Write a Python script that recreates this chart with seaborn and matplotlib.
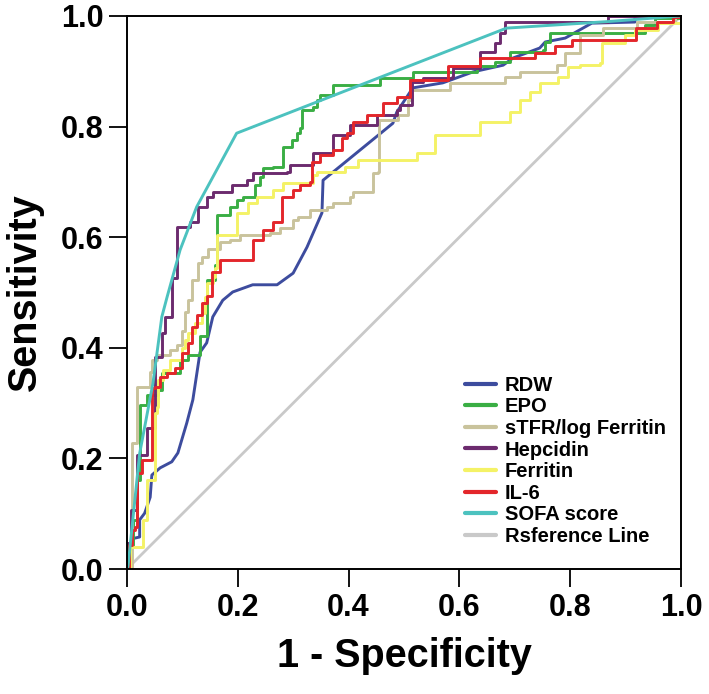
import matplotlib
matplotlib.use("Agg")
import matplotlib.pyplot as plt
import seaborn as sns
import pandas as pd
from matplotlib.lines import Line2D

# ---------------- data ----------------
rdw_fpr = [0, 0.005, 0.010, 0.023, 0.023, 0.032, 0.042, 0.045, 0.060, 0.081, 0.092, 0.108, 0.119,
           0.132, 0.144, 0.155, 0.173, 0.191, 0.227, 0.271, 0.300, 0.325, 0.352, 0.354, 0.480,
           0.487, 0.516, 0.570, 0.625, 0.679, 0.697, 0.745, 0.755, 0.791, 0.839, 0.917, 0.917, 1.0]
rdw_tpr = [0, 0.020, 0.055, 0.058, 0.089, 0.101, 0.130, 0.170, 0.183, 0.194, 0.210, 0.264, 0.306,
           0.392, 0.409, 0.456, 0.486, 0.501, 0.514, 0.514, 0.535, 0.582, 0.644, 0.703, 0.806,
           0.826, 0.870, 0.879, 0.899, 0.911, 0.924, 0.942, 0.953, 0.960, 0.987, 0.989, 1.0, 1.0]

epo_fpr = [0, 0.005, 0.011, 0.018, 0.023, 0.023, 0.036, 0.036, 0.056, 0.063, 0.096, 0.096, 0.110,
           0.132, 0.144, 0.144, 0.159, 0.162, 0.162, 0.186, 0.186, 0.199, 0.199, 0.209, 0.231,
           0.240, 0.245, 0.264, 0.282, 0.298, 0.307, 0.312, 0.316, 0.336, 0.343, 0.348, 0.372,
           0.457, 0.457, 0.516, 0.516, 0.632, 0.632, 0.664, 0.691, 0.751, 0.755, 0.764, 0.899,
           0.935, 0.953, 1.0]
epo_tpr = [0, 0.043, 0.089, 0.161, 0.179, 0.297, 0.297, 0.315, 0.324, 0.354, 0.354, 0.378, 0.387,
           0.421, 0.510, 0.523, 0.550, 0.608, 0.640, 0.640, 0.655, 0.655, 0.667, 0.673, 0.694,
           0.709, 0.725, 0.727, 0.763, 0.776, 0.788, 0.797, 0.830, 0.836, 0.848, 0.857, 0.875,
           0.878, 0.888, 0.888, 0.899, 0.899, 0.910, 0.917, 0.935, 0.938, 0.953, 0.969, 0.969,
           0.984, 0.996, 1.0]

stfr_fpr = [0, 0.009, 0.009, 0.018, 0.018, 0.029, 0.042, 0.045, 0.054, 0.078, 0.090, 0.099, 0.105,
            0.110, 0.117, 0.128, 0.135, 0.146, 0.168, 0.186, 0.204, 0.258, 0.276, 0.300, 0.309,
            0.330, 0.361, 0.372, 0.403, 0.408, 0.444, 0.444, 0.453, 0.455, 0.489, 0.507, 0.514,
            0.583, 0.679, 0.682, 0.709, 0.773, 0.776, 0.791, 0.818, 0.818, 0.859, 0.921, 0.940,
            0.989, 1.0]
stfr_tpr = [0, 0.004, 0.228, 0.228, 0.329, 0.329, 0.356, 0.378, 0.387, 0.396, 0.405, 0.430, 0.465,
            0.486, 0.523, 0.553, 0.564, 0.579, 0.591, 0.595, 0.604, 0.608, 0.617, 0.631, 0.637,
            0.650, 0.655, 0.662, 0.673, 0.682, 0.682, 0.716, 0.718, 0.812, 0.821, 0.848, 0.866,
            0.879, 0.879, 0.890, 0.899, 0.899, 0.911, 0.933, 0.953, 0.966, 0.978, 0.989, 0.989,
            1.0, 1.0]

hep_fpr = [0, 0, 0.005, 0.007, 0.018, 0.018, 0.036, 0.036, 0.045, 0.051, 0.063, 0.063, 0.069,
           0.081, 0.081, 0.090, 0.090, 0.114, 0.128, 0.128, 0.144, 0.155, 0.189, 0.189, 0.217,
           0.227, 0.289, 0.294, 0.336, 0.336, 0.372, 0.372, 0.399, 0.403, 0.451, 0.480, 0.487,
           0.493, 0.514, 0.534, 0.587, 0.588, 0.637, 0.637, 0.664, 0.673, 0.682, 0.868, 0.868, 1.0]
hep_tpr = [0, 0.047, 0.047, 0.107, 0.107, 0.206, 0.206, 0.255, 0.255, 0.383, 0.383, 0.427, 0.456,
           0.481, 0.526, 0.559, 0.618, 0.627, 0.627, 0.655, 0.673, 0.682, 0.682, 0.694, 0.703,
           0.716, 0.718, 0.731, 0.740, 0.752, 0.752, 0.785, 0.785, 0.803, 0.821, 0.821, 0.830,
           0.839, 0.881, 0.888, 0.890, 0.906, 0.920, 0.935, 0.951, 0.969, 0.989, 0.989, 1.0, 1.0]

fer_fpr = [0, 0.005, 0.011, 0.029, 0.036, 0.036, 0.042, 0.051, 0.054, 0.056, 0.065, 0.078, 0.099,
           0.105, 0.110, 0.123, 0.135, 0.141, 0.144, 0.155, 0.159, 0.162, 0.162, 0.191, 0.198,
           0.218, 0.235, 0.264, 0.282, 0.312, 0.336, 0.343, 0.366, 0.393, 0.417, 0.516, 0.523,
           0.547, 0.556, 0.556, 0.634, 0.637, 0.686, 0.691, 0.709, 0.727, 0.745, 0.778, 0.796,
           0.817, 0.854, 0.857, 0.899, 0.917, 0.939, 0.958, 1.0]
fer_tpr = [0, 0.040, 0.040, 0.089, 0.107, 0.161, 0.161, 0.282, 0.293, 0.342, 0.360, 0.378, 0.400,
           0.414, 0.427, 0.445, 0.463, 0.492, 0.517, 0.528, 0.544, 0.580, 0.604, 0.604, 0.644,
           0.662, 0.673, 0.685, 0.698, 0.698, 0.712, 0.718, 0.718, 0.727, 0.740, 0.740, 0.752,
           0.752, 0.763, 0.785, 0.785, 0.808, 0.808, 0.826, 0.848, 0.863, 0.879, 0.890, 0.908,
           0.911, 0.915, 0.951, 0.966, 0.975, 0.975, 0.987, 1.0]

il6_fpr = [0, 0.004, 0.009, 0.014, 0.018, 0.027, 0.045, 0.045, 0.051, 0.060, 0.072, 0.087, 0.099,
           0.099, 0.110, 0.110, 0.117, 0.117, 0.126, 0.135, 0.144, 0.153, 0.153, 0.168, 0.226,
           0.227, 0.245, 0.245, 0.264, 0.280, 0.280, 0.300, 0.312, 0.330, 0.334, 0.348, 0.372,
           0.388, 0.397, 0.408, 0.433, 0.462, 0.462, 0.484, 0.487, 0.511, 0.511, 0.579, 0.579,
           0.637, 0.637, 0.736, 0.736, 0.773, 0.773, 0.803, 0.803, 0.919, 0.919, 0.957, 0.957,
           0.984, 0.986, 1.0]
il6_tpr = [0, 0.043, 0.071, 0.076, 0.174, 0.197, 0.197, 0.327, 0.329, 0.347, 0.354, 0.363, 0.373,
           0.391, 0.391, 0.409, 0.414, 0.438, 0.459, 0.481, 0.494, 0.505, 0.537, 0.559, 0.559,
           0.595, 0.595, 0.613, 0.627, 0.627, 0.673, 0.685, 0.694, 0.700, 0.736, 0.749, 0.758,
           0.779, 0.788, 0.808, 0.821, 0.821, 0.843, 0.843, 0.854, 0.854, 0.884, 0.888, 0.910,
           0.910, 0.924, 0.924, 0.933, 0.933, 0.946, 0.946, 0.957, 0.957, 0.978, 0.984, 0.989,
           0.989, 0.998, 1.0]

sofa_fpr = [0, 0.002, 0.023, 0.047, 0.063, 0.072, 0.096, 0.126, 0.198, 0.685, 0.870, 1.0]
sofa_tpr = [0, 0.005, 0.209, 0.336, 0.456, 0.490, 0.577, 0.655, 0.788, 0.978, 0.990, 1.0]

ref_fpr = [0.0, 1.0]
ref_tpr = [0.0, 1.0]

names = ["RDW", "EPO", "sTFR/log Ferritin", "Hepcidin", "Ferritin", "IL-6", "SOFA score",
         "Rsference Line"]
colors = ["#3d4c9e", "#3aae44", "#c9c39c", "#6c2b6e", "#f4f266", "#e3262b", "#4cc2bf", "#c9c9c9"]
tick_vals = [0.0, 0.2, 0.4, 0.6, 0.8, 1.0]
tick_labels = ["0.0", "0.2", "0.4", "0.6", "0.8", "1.0"]

series = [
    (names[0], rdw_fpr, rdw_tpr, "default"),
    (names[1], epo_fpr, epo_tpr, "steps-post"),
    (names[2], stfr_fpr, stfr_tpr, "steps-post"),
    (names[3], hep_fpr, hep_tpr, "steps-post"),
    (names[4], fer_fpr, fer_tpr, "steps-post"),
    (names[5], il6_fpr, il6_tpr, "steps-post"),
    (names[6], sofa_fpr, sofa_tpr, "default"),
]

# ---------------- plot ----------------
sns.set_theme(style="white")
plt.rcParams["font.family"] = ["Liberation Sans", "DejaVu Sans"]
plt.rcParams["font.weight"] = "bold"

fig = plt.figure(figsize=(7.09, 6.94), dpi=100)
ax = fig.add_axes([0.179, 0.180, 0.7815, 0.797])

# reference diagonal first (underneath)
ref_df = pd.DataFrame({"fpr": ref_fpr, "tpr": ref_tpr})
sns.lineplot(data=ref_df, x="fpr", y="tpr", ax=ax, color=colors[7], linewidth=2.0,
             sort=False, estimator=None, label=None, zorder=1)

for (name, fx, fy, ds), col in zip(series, colors[:7]):
    df = pd.DataFrame({"fpr": fx, "tpr": fy})
    sns.lineplot(data=df, x="fpr", y="tpr", ax=ax, color=col, linewidth=2.1,
                 sort=False, estimator=None, drawstyle=ds, zorder=2)

handles = [Line2D([0], [0], color=c, lw=3.0) for c in colors]

ax.set_xlim(0, 1)
ax.set_ylim(0, 1)
ax.set_xticks(tick_vals)
ax.set_xticklabels(tick_labels)
ax.set_yticks(tick_vals)
ax.set_yticklabels(tick_labels)
ax.tick_params(axis="both", which="both", bottom=True, left=True, direction="out",
               length=13, width=1.3, color="black", labelsize=22, pad=4,
               labelcolor="black")
for lab in ax.get_xticklabels() + ax.get_yticklabels():
    lab.set_fontweight("bold")

for sp in ax.spines.values():
    sp.set_visible(True)
    sp.set_color("black")
    sp.set_linewidth(1.4)

ax.set_xlabel("1 - Specificity", fontsize=28.5, fontweight="bold", color="black", labelpad=10)
ax.set_ylabel("Sensitivity", fontsize=28.5, fontweight="bold", color="black", labelpad=12)

leg = ax.legend(handles, names, loc="lower left", bbox_to_anchor=(0.578, 0.009),
                frameon=False, fontsize=14.5, handlelength=1.5, handletextpad=0.45,
                labelspacing=0.13, borderpad=0.4)
for t in leg.get_texts():
    t.set_fontweight("bold")
    t.set_color("black")

fig.savefig("out.png", dpi=100)
